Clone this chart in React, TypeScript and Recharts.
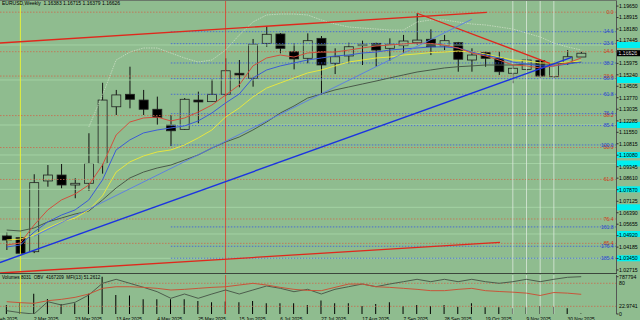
import React from "react";
import { ComposedChart, Bar, Line, XAxis, YAxis, ReferenceLine } from "recharts";

const BG = "#8fbc8f";

// weekly bars, 16 Feb 2025 .. 7 Dec 2025
const opens = [1.049, 1.0479, 1.0389, 1.0843, 1.0881, 1.0817, 1.0828, 1.0955, 1.1319, 1.1399, 1.1362, 1.1303, 1.1202, 1.1174, 1.1362, 1.1352, 1.1399, 1.1534, 1.1502, 1.1726, 1.1786, 1.1672, 1.163, 1.1758, 1.1598, 1.1645, 1.1711, 1.1726, 1.1694, 1.1711, 1.173, 1.1752, 1.1709, 1.173, 1.1619, 1.1666, 1.163, 1.1534, 1.1559, 1.1615, 1.1512, 1.1598, 1.16383];
const highs = [1.0511, 1.0522, 1.0886, 1.0945, 1.0952, 1.086, 1.1149, 1.1473, 1.1427, 1.1576, 1.1427, 1.1384, 1.1266, 1.1375, 1.1416, 1.1495, 1.163, 1.1619, 1.1754, 1.1837, 1.1792, 1.1726, 1.179, 1.1773, 1.1694, 1.173, 1.1743, 1.173, 1.1758, 1.178, 1.1919, 1.1816, 1.178, 1.1735, 1.1694, 1.1672, 1.1672, 1.1587, 1.1651, 1.1619, 1.1608, 1.1683, 1.16715];
const lows = [1.04, 1.0372, 1.038, 1.0806, 1.0796, 1.0732, 1.078, 1.089, 1.1266, 1.1309, 1.1266, 1.1202, 1.1067, 1.117, 1.1213, 1.135, 1.1388, 1.1444, 1.1448, 1.1704, 1.1662, 1.1559, 1.1598, 1.1395, 1.1529, 1.1598, 1.1587, 1.1576, 1.1615, 1.1666, 1.1715, 1.1651, 1.1683, 1.1544, 1.1544, 1.1576, 1.1523, 1.147, 1.1544, 1.1502, 1.1502, 1.1587, 1.16379];
const closes = [1.0464, 1.0379, 1.0832, 1.0881, 1.0817, 1.0828, 1.0955, 1.1362, 1.1395, 1.1367, 1.1303, 1.1251, 1.1165, 1.1367, 1.135, 1.1399, 1.155, 1.1523, 1.172, 1.1784, 1.1694, 1.1626, 1.1743, 1.1587, 1.164, 1.1704, 1.172, 1.1683, 1.172, 1.1741, 1.1747, 1.1704, 1.1743, 1.1624, 1.1651, 1.163, 1.1544, 1.1566, 1.1619, 1.1516, 1.1598, 1.164, 1.16626];

const maRed = [1.0432, 1.0445, 1.056, 1.0657, 1.0721, 1.0759, 1.0817, 1.0945, 1.1138, 1.1221, 1.1247, 1.1253, 1.1228, 1.1247, 1.1285, 1.133, 1.1394, 1.1459, 1.1581, 1.1632, 1.1651, 1.1638, 1.1664, 1.167, 1.167, 1.1683, 1.1696, 1.1709, 1.1715, 1.1722, 1.1728, 1.1725, 1.1715, 1.1696, 1.1664, 1.1645, 1.1619, 1.1587, 1.1581, 1.1568, 1.1581, 1.16, 1.1632];
const maBlue = [1.0419, 1.0432, 1.0515, 1.058, 1.0624, 1.0657, 1.0721, 1.0849, 1.1042, 1.1106, 1.1151, 1.117, 1.1183, 1.1196, 1.1228, 1.1279, 1.1343, 1.1401, 1.1504, 1.1555, 1.1581, 1.16, 1.1619, 1.1632, 1.1645, 1.1651, 1.1664, 1.167, 1.1683, 1.169, 1.1696, 1.1703, 1.1703, 1.1696, 1.167, 1.1651, 1.1632, 1.1606, 1.1593, 1.1581, 1.1581, 1.1593, 1.1606];
const maYellow = [1.0464, 1.047, 1.0496, 1.0541, 1.058, 1.0605, 1.0657, 1.0747, 1.09, 1.0965, 1.1003, 1.1029, 1.1042, 1.1074, 1.1119, 1.117, 1.1253, 1.1311, 1.1382, 1.1439, 1.1472, 1.1504, 1.1536, 1.1555, 1.1581, 1.1606, 1.1619, 1.1632, 1.1638, 1.1651, 1.1658, 1.1667, 1.167, 1.1677, 1.167, 1.1658, 1.1638, 1.1619, 1.1613, 1.16, 1.16, 1.1606, 1.1613];
const maGray = [1.0528, 1.0522, 1.0541, 1.058, 1.0605, 1.0631, 1.065, 1.0721, 1.0798, 1.0862, 1.09, 1.0926, 1.0945, 1.0977, 1.101, 1.1054, 1.1093, 1.1125, 1.117, 1.1221, 1.1279, 1.1324, 1.1375, 1.1401, 1.1427, 1.1446, 1.1465, 1.1484, 1.1504, 1.1523, 1.1542, 1.1555, 1.1568, 1.1576, 1.1581, 1.1587, 1.1587, 1.1587, 1.1593, 1.1593, 1.1593, 1.16, 1.1606];
const bandUp = [null, null, null, null, null, null, 1.1189, 1.1394, 1.1619, 1.1670, 1.1696, 1.1696, 1.1664, 1.1632, 1.1606, 1.1619, 1.1683, 1.1779, 1.1863, 1.1908, 1.1914, 1.1914, 1.1908, 1.1876, 1.1850, 1.1831, 1.1824, 1.1818, 1.1811, 1.1811, 1.1863, 1.1876, 1.1876, 1.1863, 1.1850, 1.1844, 1.1831, 1.1818, 1.1792, 1.1767, 1.1728, 1.1703, 1.1683];

const volumes = [192000, 249000, 426000, 319000, 213000, 228000, 426000, 787794, 404000, 390000, 313000, 313000, 313000, 313000, 277000, 249000, 262000, 249000, 277000, 228000, 228000, 228000, 192000, 283000, 228000, 228000, 170000, 213000, 249000, 170000, 192000, 170000, 192000, 155000, 228000, 143000, 143000, 121000, 143000, 170000, 155000, 121000, 8031];
const obvK = [-1273, -1593, -1801, 167, -361, 71, 1239, 3111, 3751, 3111, 2471, 1767, 711, 1399, 711, 1399, 2039, 1399, 2039, 2679, 2311, 1767, 2151, 1399, 2151, 2567, 2999, 2567, 2999, 3367, 3751, 3367, 3751, 3367, 3751, 3367, 3111, 3367, 3751, 3367, 3751, 4071, 4167];
const mfi = [32, 29.5, 27.8, 34.7, 38.2, 43.4, 52, 66.8, 71, 71, 69.4, 66.8, 62.5, 64.2, 66.8, 69.4, 71, 75.5, 79.9, 75.5, 69.4, 64.2, 61.5, 60.8, 69.4, 78, 78, 71, 69.4, 66.8, 64.2, 60.8, 60.8, 64.2, 66.8, 60.8, 58.6, 56.9, 54.3, 48.2, 56, 54.3, 51.26];

const dateTicks = [-1, 2, 5, 8, 11, 14, 17, 20, 23, 26, 29, 32, 35, 38, 41];
const dateLabels = ["9 Feb 2025", "2 Mar 2025", "23 Mar 2025", "13 Apr 2025", "4 May 2025", "25 May 2025", "15 Jun 2025", "6 Jul 2025", "27 Jul 2025", "17 Aug 2025", "7 Sep 2025", "28 Sep 2025", "19 Oct 2025", "9 Nov 2025", "30 Nov 2025"];
const priceTicks = [1.02715, 1.0345, 1.04185, 1.0492, 1.05655, 1.0639, 1.07125, 1.0787, 1.0861, 1.09345, 1.1008, 1.10815, 1.1155, 1.12285, 1.13035, 1.1377, 1.14505, 1.1524, 1.15975, 1.1671, 1.17445, 1.1818, 1.18915, 1.1965];

const fibLevels = [0, 14.6, 23.6, 38.2, 50, 61.8, 76.4, 85.4, 100, 161.8, 176.4, 185.4];
const redFib = { high: 1.1926, low: 1.0189 };
const blueFib = { high: 1.1925, low: 1.1074, start: 12 };
const cyanLevels = [1.17154, 1.14908, 1.1202, 1.10095, 1.0955, 1.07894, 1.06739, 1.05026, 1.03467];
const lastPrice = 1.16626;

const X_DOMAIN: [number, number] = [-0.49, 44.58];
const Y_DOMAIN: [number, number] = [1.02459, 1.20041];

const data = closes.map((c, i) => ({
  i,
  open: opens[i],
  high: highs[i],
  low: lows[i],
  close: c,
  range: [lows[i], highs[i]],
  maRed: maRed[i],
  maBlue: maBlue[i],
  maYellow: maYellow[i],
  maGray: maGray[i],
  bandUp: bandUp[i],
  vol: volumes[i],
  obv: obvK[i],
  mfi: mfi[i],
}));

const Candle = (props: any) => {
  const { x, y, width, height, payload } = props;
  if (!payload) return null;
  const { open, close, high, low } = payload;
  const py = (p: number) => y + ((high - p) / (high - low)) * height;
  const cx = x + width / 2;
  const top = py(Math.max(open, close));
  const bot = py(Math.min(open, close));
  return (
    <g>
      <line x1={cx} x2={cx} y1={y} y2={y + height} stroke="#111" strokeWidth={1} />
      <rect x={x + 0.5} y={top} width={width - 1} height={Math.max(bot - top, 0.8)} fill={close >= open ? BG : "#000"} stroke="#222" strokeWidth={0.8} />
    </g>
  );
};

const DateTick = (props: any) => {
  const { x, y, payload } = props;
  const k = dateTicks.indexOf(payload.value);
  return (
    <text x={x} y={y + 4.5} fontSize={4.8} fill="#000" textAnchor="start">
      {dateLabels[k]}
    </text>
  );
};

// coloured marker on the price scale
const AxisBox = (color: string, text?: string) => (props: any) => {
  const yy = props.viewBox.y;
  return (
    <g>
      <rect x={617} y={yy - 3} width={23} height={6} fill={color} />
      {text ? <text x={618.5} y={yy + 1.8} fontSize={5.2} fill="#fff">{text}</text> : null}
    </g>
  );
};

const fibPrice = (f: { high: number; low: number }, pct: number) => f.high - (pct / 100) * (f.high - f.low);

export default function App() {
  return (
    <div style={{ position: "fixed", left: 0, top: 0, width: 640, height: 320, background: BG, fontFamily: "'Liberation Sans', Arial, sans-serif", overflow: "hidden" }}>
      <ComposedChart width={640} height={274} data={data} margin={{ top: 0, right: 0, bottom: 0, left: 0 }}>
        <XAxis dataKey="i" type="number" domain={X_DOMAIN} allowDataOverflow hide />
        <YAxis orientation="right" width={23.5} domain={Y_DOMAIN} allowDataOverflow ticks={priceTicks} interval={0}
          tickFormatter={(v: number) => v.toFixed(5)} tick={{ fontSize: 5.2, fill: "#000" }} tickSize={2} tickMargin={0.5}
          axisLine={{ stroke: "#555" }} tickLine={{ stroke: "#333" }} />

        {cyanLevels.map((p) => (
          <ReferenceLine key={"c" + p} y={p} stroke="#a8d8a8" strokeWidth={0.8} label={AxisBox("#00f0f0")} />
        ))}
        {fibLevels.filter((p) => p <= 85.4).map((p) => (
          <ReferenceLine key={"r" + p} y={fibPrice(redFib, p)} stroke="#cc6a4c" strokeDasharray="1.5 1.5" strokeWidth={0.8}
            label={{ value: p.toFixed(1), position: "insideRight", offset: 3, fontSize: 5, fill: "#d03818" }} />
        ))}
        {fibLevels.filter((p) => p > 0).map((p) => (
          <ReferenceLine key={"b" + p} ifOverflow="visible" stroke="#3a5ae0" strokeDasharray="1.5 1.5" strokeWidth={0.8}
            segment={[{ x: blueFib.start, y: fibPrice(blueFib, p) }, { x: X_DOMAIN[1], y: fibPrice(blueFib, p) }]}
            label={{ value: p.toFixed(1), position: "insideRight", offset: 3, fontSize: 5, fill: "#2a44d0" }} />
        ))}

        <ReferenceLine x={1} stroke="#e4ee3c" strokeWidth={1} />
        <ReferenceLine x={16} stroke="#e03a2a" strokeWidth={0.8} />
        {[37, 38, 39, 40].map((i) => (
          <ReferenceLine key={"v" + i} x={i} stroke="#dce8dc" strokeWidth={0.8} />
        ))}

        <Bar dataKey="range" barSize={10} shape={<Candle />} isAnimationActive={false} />

        <Line dataKey="bandUp" stroke="#d4e2cc" strokeWidth={0.7} strokeDasharray="1.5 1" dot={false} isAnimationActive={false} />
        <Line dataKey="maGray" stroke="#4a5a4a" strokeWidth={1} dot={false} isAnimationActive={false} />
        <Line dataKey="maYellow" stroke="#e6e640" strokeWidth={1} dot={false} isAnimationActive={false} />
        <Line dataKey="maBlue" stroke="#3c5cd6" strokeWidth={1} dot={false} isAnimationActive={false} />
        <Line dataKey="maRed" stroke="#d2503e" strokeWidth={1} dot={false} isAnimationActive={false} />

        <ReferenceLine ifOverflow="visible" segment={[{ x: -0.49, y: 1.17282 }, { x: 35.1, y: 1.19252 }]} stroke="#e0281c" strokeWidth={1.3} />
        <ReferenceLine ifOverflow="visible" segment={[{ x: 30, y: 1.1919 }, { x: 39.7, y: 1.1598 }]} stroke="#e0281c" strokeWidth={1.3} />
        <ReferenceLine ifOverflow="visible" segment={[{ x: -0.49, y: 1.02523 }, { x: 36.06, y: 1.04493 }]} stroke="#e0281c" strokeWidth={1.3} />
        <ReferenceLine ifOverflow="visible" segment={[{ x: 2, y: 1.04884 }, { x: 34, y: 1.18803 }]} stroke="#5a7ae8" strokeWidth={0.9} />
        <ReferenceLine ifOverflow="visible" segment={[{ x: -0.49, y: 1.03197 }, { x: 41.3, y: 1.1636 }]} stroke="#1c34e0" strokeWidth={1.4} />

        <ReferenceLine y={lastPrice} stroke="none" label={AxisBox("#000", lastPrice.toFixed(5))} />
      </ComposedChart>

      <div style={{ position: "absolute", left: 2, top: 0, fontSize: 5, color: "#000", whiteSpace: "pre", lineHeight: "7px" }}>
        EURUSD,Weekly  1.16383 1.16715 1.16379 1.16626
      </div>
      <div style={{ position: "absolute", left: 0, top: 0, width: 616.5, height: 1, background: "#6a786a" }} />
      <div style={{ position: "absolute", left: 0, top: 272.5, width: 616.5, height: 1.5, background: "#3c463c" }} />

      <div style={{ position: "absolute", left: 0, top: 274 }}>
        <ComposedChart width={640} height={46} data={data} margin={{ top: 1, right: 0, bottom: 0, left: 0 }}>
          <XAxis dataKey="i" type="number" domain={X_DOMAIN} allowDataOverflow ticks={dateTicks} interval={0}
            tick={<DateTick />} axisLine={false} tickLine={false} height={6} tickSize={0} />
          <YAxis yAxisId="vol" orientation="right" width={23.5} domain={[0, 824000]} allowDataOverflow ticks={[0, 787794]}
            tick={{ fontSize: 5.2, fill: "#000" }} tickSize={2} tickMargin={0.5} axisLine={{ stroke: "#555" }} tickLine={{ stroke: "#333" }} />
          <YAxis yAxisId="mfi" hide domain={[0, 101.6]} allowDataOverflow />
          <YAxis yAxisId="obv" hide domain={[-1801, 4439]} allowDataOverflow />

          <ReferenceLine yAxisId="mfi" y={80} stroke="#cc6a4c" strokeDasharray="1.5 1.5" strokeWidth={0.8}
            label={{ value: "80", position: "right", offset: 2.5, fontSize: 5.2, fill: "#000" }} />
          <ReferenceLine yAxisId="mfi" y={20} stroke="#cc6a4c" strokeDasharray="1.5 1.5" strokeWidth={0.8}
            label={{ value: "22.9741", position: "right", offset: 2.5, fontSize: 5.2, fill: "#000" }} />
          <ReferenceLine yAxisId="mfi" x={1} stroke="#e4ee3c" strokeWidth={1} />
          <ReferenceLine yAxisId="mfi" x={16} stroke="#e03a2a" strokeWidth={0.8} />
          {[37, 38, 39, 40].map((i) => (
            <ReferenceLine key={"sv" + i} yAxisId="mfi" x={i} stroke="#dce8dc" strokeWidth={0.8} />
          ))}

          <Bar yAxisId="vol" dataKey="vol" barSize={1} fill="#000" isAnimationActive={false} />
          <Line yAxisId="obv" dataKey="obv" stroke="#4d5d4d" strokeWidth={1} dot={false} isAnimationActive={false} />
          <Line yAxisId="mfi" dataKey="mfi" stroke="#c8553a" strokeWidth={1} dot={false} isAnimationActive={false} />
        </ComposedChart>
        <div style={{ position: "absolute", left: 2, top: 0, fontSize: 4.6, color: "#000", whiteSpace: "pre", lineHeight: "7px" }}>
          Volumes 8031  OBV  4167209  MFI(13) 51.2612
        </div>
      </div>
    </div>
  );
}
